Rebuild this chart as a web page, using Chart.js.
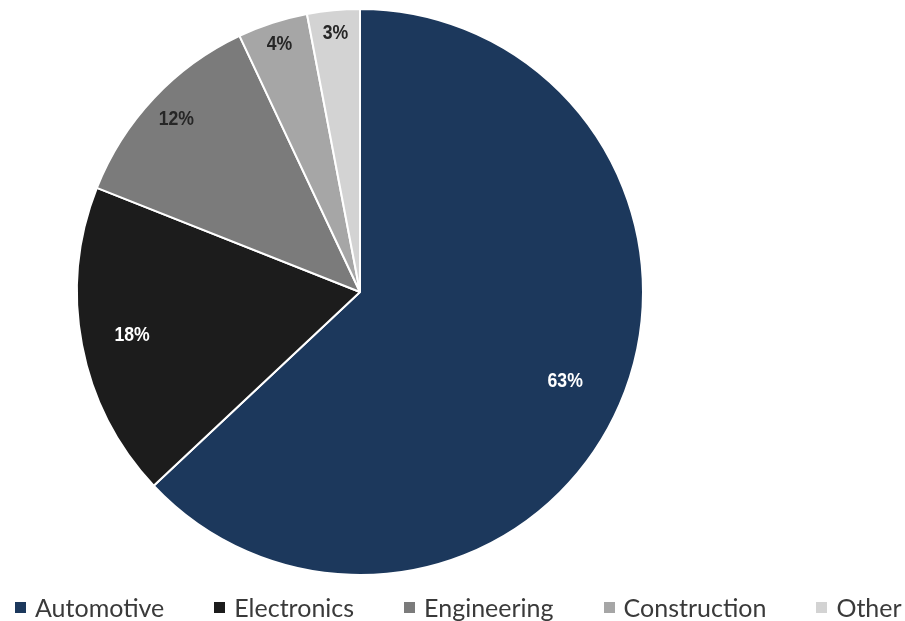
<!DOCTYPE html>
<html>
<head>
<meta charset="utf-8">
<script src="https://cdn.jsdelivr.net/npm/chart.js@4/dist/chart.umd.min.js"></script>
<style>
  html, body { margin: 0; padding: 0; background: #ffffff; }
  #wrap { position: relative; width: 905px; height: 621px; }
  #c { position: absolute; left: 0; top: 0; }
  #legend { position: absolute; left: 15px; top: 592px; display: flex; align-items: center; gap: 50px;
            font-family: Lato, "Open Sans", sans-serif; font-size: 25px; color: #3a3a3a; white-space: nowrap; }
  .item { display: flex; align-items: center; }
  .sw { width: 11px; height: 11px; margin-right: 9px; display: inline-block; }
</style>
</head>
<body>
<div id="wrap">
  <canvas id="c" width="905" height="621"></canvas>
  <div id="legend"></div>
</div>
<script>
const categories = ["Automotive", "Electronics", "Engineering", "Construction", "Other"];
const shares = [63, 18, 12, 4, 3];
const sliceColors = ["#1c385c", "#1c1c1c", "#7b7b7b", "#a6a6a6", "#d3d3d3"];
const labelColors = ["#ffffff", "#ffffff", "#262626", "#262626", "#262626"];
const labelRadius = [0.79, 0.82, 0.89, 0.92, 0.92];

const pctLabels = {
  id: 'pctLabels',
  afterDatasetsDraw(chart) {
    const ctx = chart.ctx;
    const meta = chart.getDatasetMeta(0);
    meta.data.forEach((arc, i) => {
      const p = arc.getProps(['x', 'y', 'startAngle', 'endAngle', 'outerRadius'], true);
      const mid = (p.startAngle + p.endAngle) / 2;
      const r = p.outerRadius * labelRadius[i];
      ctx.save();
      ctx.translate(p.x + Math.cos(mid) * r, p.y + Math.sin(mid) * r);
      ctx.scale(0.84, 1);
      ctx.font = 'bold 21px "Liberation Sans", Arial, sans-serif';
      ctx.textAlign = 'center';
      ctx.textBaseline = 'middle';
      ctx.fillStyle = labelColors[i];
      ctx.fillText(shares[i] + '%', 0, 0);
      ctx.restore();
    });
  }
};

new Chart(document.getElementById('c'), {
  type: 'pie',
  data: {
    labels: categories,
    datasets: [{
      data: shares,
      backgroundColor: sliceColors,
      borderColor: '#ffffff',
      borderWidth: 2
    }]
  },
  options: {
    responsive: false,
    animation: false,
    layout: { padding: { left: 0, right: 185, top: 8, bottom: 45 } },
    plugins: { legend: { display: false }, tooltip: { enabled: false } }
  },
  plugins: [pctLabels]
});

const lg = document.getElementById('legend');
categories.forEach((name, i) => {
  const it = document.createElement('div');
  it.className = 'item';
  const sw = document.createElement('span');
  sw.className = 'sw';
  sw.style.background = sliceColors[i];
  it.appendChild(sw);
  it.appendChild(document.createTextNode(name));
  lg.appendChild(it);
});
</script>
</body>
</html>
